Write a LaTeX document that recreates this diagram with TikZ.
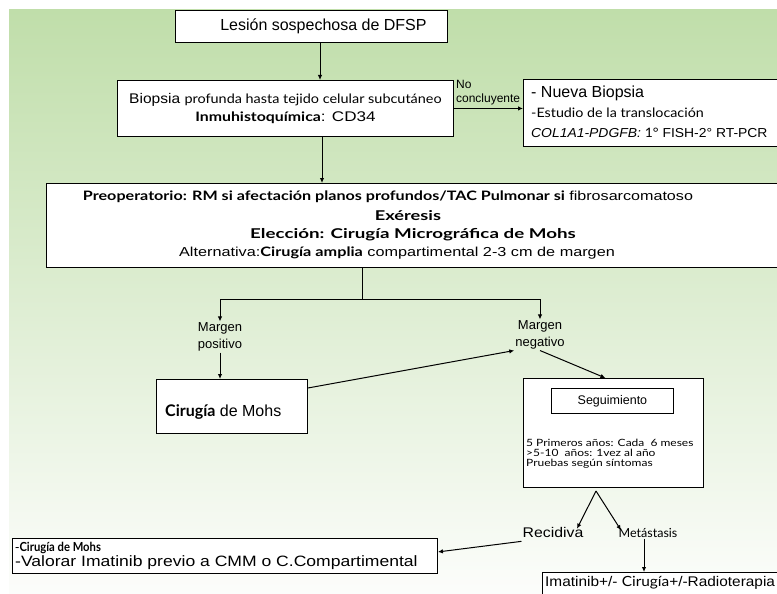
\documentclass[tikz,border=0pt]{standalone}
\usepackage{fontspec}
\usepackage{graphicx}
\setmainfont{Liberation Sans}
\newfontfamily\gill{Lato}
\usetikzlibrary{arrows.meta}
\definecolor{bgtop}{RGB}{192,222,170}
\definecolor{bgbot}{RGB}{252,253,251}
\newcommand{\hs}[2]{\scalebox{#1}[1]{#2}}

\begin{document}
\begin{tikzpicture}[x=1pt, y=-1pt,
    box/.style={draw=black, fill=white, line width=0.9pt, inner sep=0pt},
    arr/.style={-{Latex[length=5pt,width=4.5pt]}, line width=1pt},
    lnk/.style={line width=1pt}]
  \useasboundingbox (0,0) rectangle (777,594);
  \clip (0,0) rectangle (777,594);
  \shade[top color=bgtop, bottom color=bgbot] (9,10) rectangle (777,594);
  % ---------- diagnosis ----------
  \node[box, anchor=north west, minimum width=272pt, minimum height=32pt,
    font=\fontsize{16}{18}\selectfont] (lesion) at (175,10)
    {\hspace*{24pt}Lesión sospechosa de DFSP};
  \node[box, anchor=north west, minimum width=336pt, minimum height=56pt,
    align=center, font=\fontsize{14}{18}\selectfont] (biop) at (117,80)
    {\hs{1.11}{Biopsia {\gill\fontsize{13}{18}\selectfont profunda hasta tejido celular subcutáneo}}\\
     \hs{1.22}{{\gill\bfseries\fontsize{13}{18}\selectfont Inmuhistoquímica}: CD34}};
  \node[box, anchor=north west, minimum width=270pt, minimum height=67pt]
    (nueva) at (523,79) {};
  \node[anchor=north west, align=left, inner sep=0pt,
    font=\fontsize{13}{20}\selectfont] (nuevatxt) at (531,86)
    {{\fontsize{16}{20}\selectfont - Nueva Biopsia}\\
     \hs{1.1}{\gill -Estudio de la translocación}\\
     \hs{1.07}{\textit{COL1A1-PDGFB:} {\gill 1°} FISH-2° RT-PCR}};
  \draw[arr] (lesion.south -| 320,0) -- (320,0 |- biop.north);
  \draw[arr] (biop.east) -- (biop.east -| nueva.west);
  \node[anchor=south west, align=left, inner sep=1pt,
    font=\fontsize{12}{14}\selectfont] (nocon) at ([xshift=1pt,yshift=2pt]biop.east)
    {No\\concluyente};
  % ---------- treatment ----------
  \node[box, anchor=north west, minimum width=760pt, minimum height=84pt]
    (plan) at (46,183) {};
  \node[inner sep=0pt, font=\fontsize{13}{15}\selectfont] (plan1) at (388,197)
    {\hs{1.24}{{\gill\bfseries Preoperatorio: RM si afectación planos profundos/TAC Pulmonar si} fibrosarcomatoso}};
  \node[inner sep=0pt, font=\gill\bfseries\fontsize{13.5}{15}\selectfont] (plan2) at (408,216)
    {\hs{1.35}{Exéresis}};
  \node[inner sep=0pt, font=\gill\bfseries\fontsize{13.5}{15}\selectfont] (plan3) at (413,235)
    {\hs{1.39}{Elección: Cirugía Micrográfica de Mohs}};
  \node[inner sep=0pt, font=\fontsize{13}{15}\selectfont] (plan4) at (397,253)
    {\hs{1.25}{Alternativa:{\gill\bfseries Cirugía amplia} compartimental 2-3 cm de margen}};
  \draw[arr] (biop.south -| 322,0) -- (322,0 |- plan.north);
  \coordinate (split) at (362,299);
  \node[align=center, inner sep=1pt, font=\fontsize{13}{17}\selectfont]
    (margpos) at (220,337) {Margen\\positivo};
  \node[align=center, inner sep=1pt, font=\fontsize{13}{17}\selectfont]
    (margneg) at (540,335) {Margen\\negativo};
  \draw[lnk] (split |- plan.south) -- (split);
  \draw[arr] (split) -| (margpos.north);
  \draw[arr] (split) -| (margneg.north);
  % ---------- margins ----------
  \node[box, anchor=north west, minimum width=151pt, minimum height=54pt]
    (mohs) at (156,379) {};
  \node[anchor=west, inner sep=0pt, font=\fontsize{16}{18}\selectfont]
    (mohstxt) at (165,412) {{\gill\bfseries Cirugía} de Mohs};
  \draw[arr] (margpos.south) -- (margpos.south |- mohs.north);
  \draw[arr] ([yshift=-9pt]mohs.north east) -- (margneg.south west);
  \node[box, anchor=north west, minimum width=180pt, minimum height=109pt]
    (seg) at (523,378) {};
  \node[box, anchor=north west, minimum width=122pt, minimum height=25pt,
    font=\fontsize{12.5}{14}\selectfont] (segtit) at (551,388) {Seguimiento};
  \node[anchor=north west, align=left, inner sep=0pt,
    font=\gill\fontsize{10}{10}\selectfont] (segtxt) at (526,439)
    {\hs{1.2}{5 Primeros años: Cada \ 6 meses}\\
     \hs{1.2}{>5-10 \ años: 1vez al año}\\
     \hs{1.2}{Pruebas según síntomas}};
  \draw[arr] (margneg.south) -- ([xshift=-8pt]seg.north);
  % ---------- follow-up ----------
  \coordinate (fork) at (596,491);
  \node[inner sep=1pt, font=\fontsize{14}{16}\selectfont] (recid) at (553,532)
    {\hs{1.13}{Recidiva}};
  \node[inner sep=1pt, font=\gill\fontsize{12.5}{14}\selectfont] (metas) at (648,533)
    {Metástasis};
  \draw[arr] (fork) -- ([xshift=24pt,yshift=-3pt]recid.north);
  \draw[arr] (fork) -- ([xshift=-27pt,yshift=-3pt]metas.north);
  \node[box, anchor=north west, minimum width=425pt, minimum height=35pt]
    (cmm) at (12,538) {};
  \node[anchor=west, align=left, inner sep=0pt, font=\fontsize{13}{14.5}\selectfont]
    (cmmtxt) at (15,556)
    {-\hs{0.9}{\gill\bfseries\fontsize{12.5}{14.5}\selectfont Cirugía de Mohs}\\
     \hs{1.17}{\fontsize{15}{14.5}\selectfont -Valorar Imatinib previo a CMM o C.Compartimental}};
  \draw[arr] ([yshift=-3pt]recid.south west) -- ([yshift=4pt]cmm.east);
  \node[box, anchor=north west, minimum width=260pt, minimum height=40pt]
    (imat) at (542,572) {};
  \node[anchor=west, inner sep=0pt, font=\fontsize{14}{15}\selectfont]
    (imattxt) at (545,583) {\hs{1.1}{Imatinib+/- {\gill Cirugía}+/-Radioterapia}};
  \draw[arr] ([xshift=-4pt]metas.south) -- ([xshift=-4pt]metas.south |- imat.north);
\end{tikzpicture}
\end{document}
